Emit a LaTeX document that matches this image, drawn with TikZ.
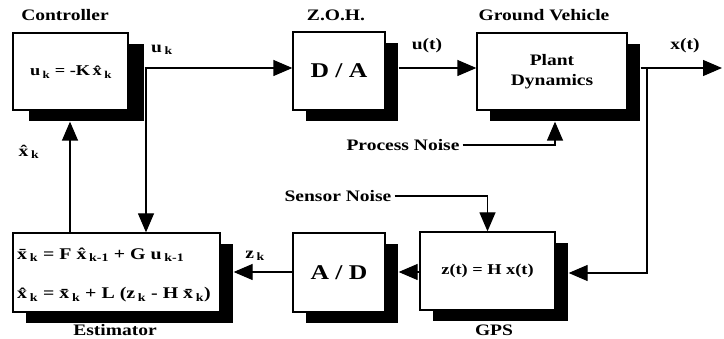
\documentclass[tikz,border=0pt]{standalone}
\usepackage{fontspec}
\newfontfamily\dfont{Liberation Serif}[FakeStretch=1.22]
\usetikzlibrary{arrows.meta,shadows,calc}
\newcommand\sbk[1]{\,\textsubscript{#1}}
\begin{document}
\begin{tikzpicture}[x=1pt,y=-1pt,
  blk/.style={draw, line width=1.3pt, fill=white, inner sep=0pt,
    drop shadow={shadow xshift=#1pt, shadow yshift=-11pt, fill=black, opacity=1}},
  blk/.default=13,
  lbl/.style={font=\dfont\bfseries\fontsize{16}{20}\selectfont, inner sep=0pt},
  big/.style={font=\dfont\bfseries\fontsize{21}{24}\selectfont, inner sep=0pt},
  eq/.style={font=\dfont\bfseries\fontsize{15}{17}\selectfont, inner sep=0pt},
  eqe/.style={font=\dfont\bfseries\fontsize{16.3}{18}\selectfont, inner sep=0pt},
  wire/.style={line width=1.3pt},
  arr/.style={wire, -{Triangle[length=19pt,width=16pt]}}]
\useasboundingbox[fill=white] (0,0) rectangle (724,339);

% blocks
\node[blk=16, minimum width=115pt, minimum height=77pt] (ctrl) at (70.5,71.5) {};
\node[eq] (ctrleq) at (71,72) {u\sbk{k} = -K\,\^x\sbk{k}};
\node[blk, minimum width=92pt, minimum height=78pt, big] (da) at (339,71) {D / A};
\node[blk, minimum width=150pt, minimum height=77pt, lbl, align=center] (plant) at (552,71.5) {Plant\\Dynamics};
\node[blk, minimum width=207pt, minimum height=79pt] (est) at (116.5,272.5) {};
\node[eqe, anchor=west] (est1) at (17,255) {\=x\sbk{k} = F \^x\sbk{k-1} + G u\sbk{k-1}};
\node[eqe, anchor=west] (est2) at (17,295) {\^x\sbk{k} = \=x\sbk{k} + L (z\sbk{k} - H \=x\sbk{k})};
\node[blk, minimum width=92pt, minimum height=79pt, big] (ad) at (339,272.5) {A / D};
\node[blk, minimum width=135pt, minimum height=78pt, eq] (gps) at (487.5,271) {z(t) = H x(t)};

% titles and labels
\node[lbl] (tc) at (65,15) {Controller};
\node[lbl] (tz) at (336,15) {Z.O.H.};
\node[lbl] (tg) at (544,15) {Ground Vehicle};
\node[lbl] (te) at (115,330) {Estimator};
\node[lbl] (tgps) at (494,330) {GPS};
\node[lbl] (lu) at (427,46) {u(t)};
\node[lbl] (lx) at (685,46) {x(t)};
\node[lbl, anchor=west] (luk) at (151,50) {u\sbk{k}};
\node[lbl] (lxh) at (29,152) {\^x\sbk{k}};
\node[lbl] (lzk) at (255,256) {z\sbk{k}};
\node[lbl] (pn) at (403,145) {Process Noise};
\node[lbl] (sn) at (338,196) {Sensor Noise};

% connectors
\coordinate (j1) at (146,68);
\coordinate (j2) at (647,68);
\coordinate (xout) at (722,68);
\coordinate (xu) at (70,233);
\draw[arr] ($(ctrl.east)+(16,-3.5)$) -- ($(da.west)+(0,-3)$);
\draw[arr] (j1) -- (j1 |- est.north);
\draw[arr] (xu) -- ($(xu |- ctrl.south)+(0,11)$);
\draw[arr] ($(da.east)+(13,-3)$) -- ($(plant.west)+(0,-3.5)$);
\draw[arr] ($(plant.east)+(13,-3.5)$) -- (xout);
\draw[arr] (j2) |- ($(gps.east)+(13,2)$);
\draw[arr] ($(gps.west)+(0,1)$) -- ($(ad.east)+(13,-0.5)$);
\draw[arr] ($(ad.west)+(0,-0.5)$) -- ($(est.east)+(13,-0.5)$);
\draw[arr] ($(pn.east)+(3,0)$) -| ($(plant.south)+(3,11)$);
\draw[arr] ($(sn.east)+(3,0)$) -| (gps.north);
\end{tikzpicture}
\end{document}
